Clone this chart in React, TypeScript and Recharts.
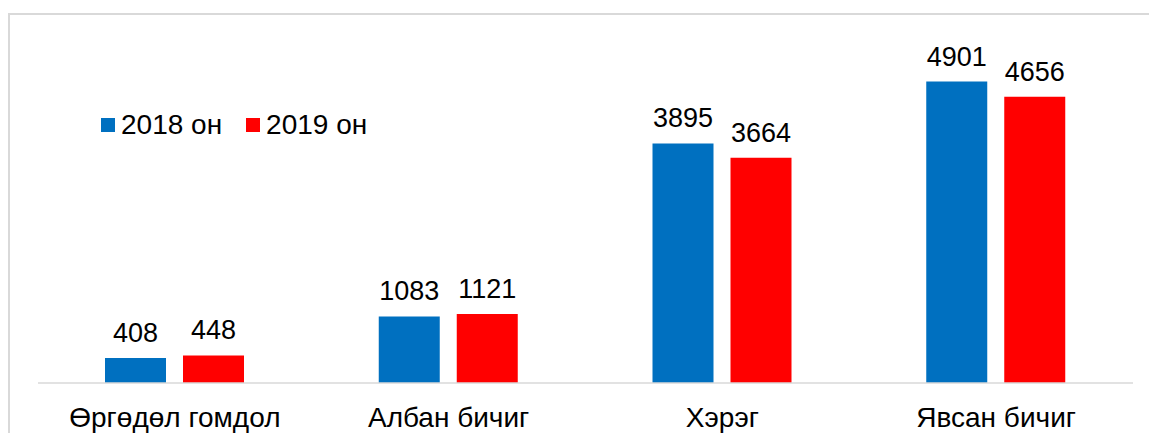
import { BarChart, Bar, XAxis, YAxis, Legend, LabelList } from 'recharts';

const categories = ['Өргөдөл гомдол', 'Албан бичиг', 'Хэрэг', 'Явсан бичиг'];
const values2018 = [408, 1083, 3895, 4901];
const values2019 = [448, 1121, 3664, 4656];
const seriesNames = ['2018 он', '2019 он'];

const data = categories.map((name, i) => ({
  name,
  [seriesNames[0]]: values2018[i],
  [seriesNames[1]]: values2019[i],
}));

const FONT = '"Liberation Sans", Arial, sans-serif';

function LegendContent(props: any) {
  const items = props.payload || [];
  return (
    <div style={{ display: 'flex', alignItems: 'center', fontFamily: FONT, fontSize: 28, lineHeight: '30px', color: '#000' }}>
      {items.map((it: any, i: number) => (
        <div key={i} style={{ display: 'flex', alignItems: 'center', marginRight: 24 }}>
          <span style={{ display: 'inline-block', width: 14, height: 14, background: it.color, marginRight: 6 }} />
          <span>{it.value}</span>
        </div>
      ))}
    </div>
  );
}

export default function App() {
  return (
    <div style={{ position: 'absolute', left: 0, top: 0, width: 1149, height: 433, overflow: 'hidden', background: '#fff' }}>
      <div
        style={{
          position: 'absolute',
          left: 8,
          top: 13,
          width: 1200,
          height: 500,
          borderLeft: '2px solid #d9d9d9',
          borderTop: '2px solid #d9d9d9',
        }}
      />
      <div style={{ position: 'absolute', left: 0, top: 0 }}>
        <BarChart
          width={1149}
          height={433}
          data={data}
          margin={{ top: 14, right: 16, bottom: 0, left: 38 }}
          barSize={61}
          barGap={17}
        >
          <XAxis
            dataKey="name"
            height={50}
            axisLine={{ stroke: '#d9d9d9', strokeWidth: 1.5 }}
            tickLine={false}
            tickSize={0}
            tickMargin={24}
            tick={{ fill: '#000', fontSize: 28, fontFamily: FONT }}
            interval={0}
          />
          <YAxis hide domain={[0, 6000]} />
          <Legend
            content={<LegendContent />}
            verticalAlign="middle"
            align="center"
            wrapperStyle={{ left: 101, top: 110, width: 400 }}
          />
          <Bar dataKey={seriesNames[0]} fill="#0070C0" isAnimationActive={false}>
            <LabelList dataKey={seriesNames[0]} position="top" offset={16} fill="#000" fontSize={27} fontFamily={FONT} />
          </Bar>
          <Bar dataKey={seriesNames[1]} fill="#FF0000" isAnimationActive={false}>
            <LabelList dataKey={seriesNames[1]} position="top" offset={16} fill="#000" fontSize={27} fontFamily={FONT} />
          </Bar>
        </BarChart>
      </div>
    </div>
  );
}
